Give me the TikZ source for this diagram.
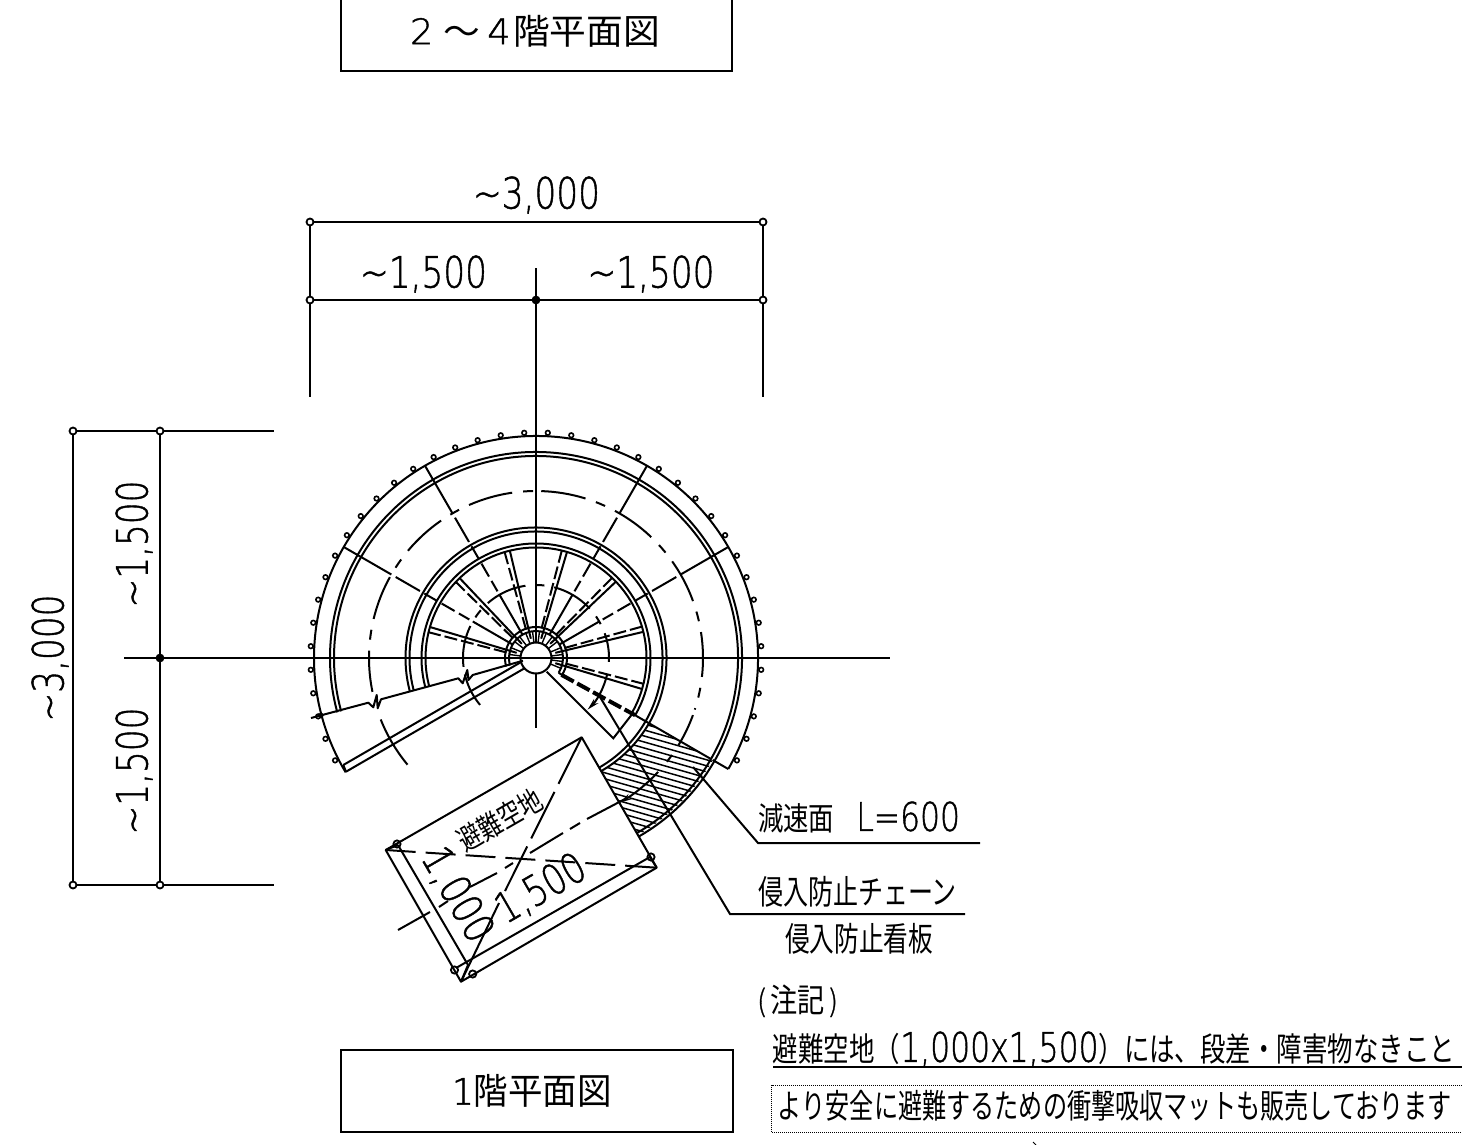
\documentclass[tikz,border=0pt]{standalone}
\usepackage{fontspec}
\usepackage{graphicx}
\usetikzlibrary{arrows.meta}
\newfontfamily\jp{Noto Sans CJK JP}
\newfontfamily\cad[FakeBold=1.2]{DejaVu Sans ExtraLight}
\newcommand{\fitbox}[3]{\resizebox*{#1pt}{#2pt}{\fontsize{30}{30}\selectfont #3}}
\newcommand{\tld}{\symbol{126}}
\newcommand{\bigcad}[1]{{\cad\fontsize{37}{37}\selectfont #1}}
\tikzset{
  x=1pt,y=1pt,
  ln/.style={line width=2pt,black},
  lbl/.style={inner sep=0pt,outer sep=0pt,black},
  radial/.style={ln,dash pattern=on 55pt off 5pt on 28pt off 5pt on 15pt off 5pt on 15pt off 5pt on 12pt off 4pt},
  arcdash/.style={ln,dash pattern=on 45pt off 11pt on 10pt off 11pt},
  arcdashl/.style={ln,dash pattern=on 10pt off 11pt on 45pt off 11pt},
  arcdashb/.style={ln,dash pattern=on 42pt off 10pt on 9pt off 10pt},
  treaddash/.style={ln,dash pattern=on 13pt off 4pt},
  tip/.style={-{Stealth[length=12pt,width=6pt]}},
  term/.style={line width=1.8pt,black},
  rail/.style={line width=1.6pt,black},
}
\begin{document}
\begin{tikzpicture}
\fill[white] (0,0) rectangle (1462,-1145);
\useasboundingbox (0,0) rectangle (1462,-1145);

% title boxes
\draw[ln] (340.5,5) -- (340.5,-71.5) -- (732,-71.5) -- (732,5);
\node[lbl] (t1) at (535,-31) {\fitbox{250}{32}{\cad 2\hspace{8pt}\jp ～\hspace{6pt}\cad 4\hspace{2pt}\jp 階平面図}};
\node[draw,ln,minimum width=392pt,minimum height=82pt] (bx2) at (537,-1091) {};
\node[lbl] (t2) at (532,-1091) {\fitbox{160}{33}{\cad 1\jp 階平面図}};

% dimensions, top
\draw[ln] (310,-222) -- (763,-222);
\draw[ln] (310,-300) -- (763,-300);
\draw[ln] (310,-222) -- (310,-397);
\draw[ln] (763,-222) -- (763,-397);
\draw[ln] (536,-268) -- (536,-728);
\foreach \p in {(310,-222),(763,-222),(310,-300),(763,-300)} \draw[term,fill=white] \p circle (3.5);
\fill (536,-300) circle (4.4);
\node[lbl] (d1) at (536.5,-195) {\fitbox{127}{37}{\cad \tld 3,000}};
\node[lbl] (d2) at (423.5,-274) {\fitbox{127}{37}{\cad \tld 1,500}};
\node[lbl] (d3) at (651,-274) {\fitbox{127}{37}{\cad \tld 1,500}};

% dimensions, left
\draw[ln] (73,-431) -- (73,-885);
\draw[ln] (160,-431) -- (160,-885);
\draw[ln] (73,-431) -- (274,-431);
\draw[ln] (73,-885) -- (274,-885);
\foreach \p in {(73,-431),(160,-431),(73,-885),(160,-885)} \draw[term,fill=white] \p circle (3.5);
\fill (160,-658) circle (4.4);
\node[lbl,rotate=90] (d4) at (50,-658) {\fitbox{127}{37}{\cad \tld 3,000}};
\node[lbl,rotate=90] (d5) at (134,-544) {\fitbox{127}{37}{\cad \tld 1,500}};
\node[lbl,rotate=90] (d6) at (134,-771) {\fitbox{127}{37}{\cad \tld 1,500}};

% hatch
\begin{scope}
\clip (600,-770) -- (638,-835) arc[start angle=-60,end angle=-30,radius=204pt] -- (648.6,-723) arc[start angle=-30,end angle=-60,radius=130pt] -- cycle;
\foreach \k in {0,...,32} \draw[line width=1.5pt] (560,-700-6*\k) -- (760,-700-6*\k-57);
\end{scope}

\draw[ln] (124,-658) -- (890,-658);

\begin{scope}[shift={(536,-658)}]
% outer rim
\draw[ln] (-30:222) arc[start angle=-30,end angle=211,radius=222pt];
\foreach \a in {-27,-21,...,207} \draw[rail,fill=white] (\a:225.5) circle (2.3);
\draw[ln] (-60:206) arc[start angle=-60,end angle=195.3,radius=206pt];
\draw[ln] (-60:202) arc[start angle=-60,end angle=195.3,radius=202pt];
\draw[ln] (-60:130.5) arc[start angle=-60,end angle=194.6,radius=130.5pt];
\draw[ln] (-60:126.5) arc[start angle=-60,end angle=194.6,radius=126.5pt];
\draw[ln] (-30:114.5) arc[start angle=-30,end angle=194.6,radius=114.5pt];
\draw[ln] (-30:110.5) arc[start angle=-30,end angle=194.6,radius=110.5pt];
\draw[ln] (-33:31) arc[start angle=-33,end angle=196,radius=31pt];
\draw[ln] (-33:27) arc[start angle=-33,end angle=196,radius=27pt];
\draw[ln] (-33:27) -- (-33:31);
\draw[ln,fill=white] (0,0) circle (15.5);
\draw[ln] (-15.5,0) -- (15.5,0);
\draw[ln] (0,-15.5) -- (0,-70) (0,15.5) -- (0,30);
% long radials
\foreach \a in {30,60,120,150} \draw[radial] (\a:222) -- (\a:27);
\draw[ln,dash pattern=on 90pt off 10pt] (-30:114) -- (-30:202);
\draw[ln] (-30:204) -- (-30:222);
% treads
\foreach \a in {165,135,105,75,45,15,-15} {
  \draw[ln] (\a-1.3:111) -- (\a:20);
  \draw[treaddash] (\a+1.5:111) -- (\a+5:26);
}
\foreach \a in {-22.5,-7.5,7.5,22.5,37.5,52.5,67.5,82.5,97.5,112.5,127.5,142.5,157.5,172.5}
  \draw[line width=1.4pt] (\a:16) -- (\a:27);
% dashed mid circles
\draw[arcdash] (88.2:167) arc[start angle=88.2,end angle=-18,radius=167pt];
\draw[arcdashl] (91:167) arc[start angle=91,end angle=191.7,radius=167pt];
\draw[ln] (-20:167) arc[start angle=-20,end angle=-31.5,radius=167pt];
\draw[ln] (-35.5:167) arc[start angle=-35.5,end angle=-38.4,radius=167pt];
\draw[ln,tip] (-43:167) arc[start angle=-43,end angle=-60,radius=167pt];
\draw[ln] (201.6:167) arc[start angle=201.6,end angle=219.7,radius=167pt];
\draw[arcdashb] (187:73) arc[start angle=187,end angle=-3,radius=73pt];
\draw[ln,tip] (-13:73) arc[start angle=-13,end angle=-45,radius=73pt];
\draw[ln] (193:73) arc[start angle=193,end angle=220,radius=73pt];
% thick dash
\draw[line width=4pt,dash pattern=on 14pt off 4pt] (-33.5:30.5) -- (-30:114.5);
\end{scope}

% stair edges
\coordinate (c0) at (311,-718);
\draw[ln,line join=round] (c0) -- (368.3,-702.7) -- (373.3,-707.3) -- (376.7,-695) -- (377.7,-708.3) -- (381,-699.3)
  -- (458.3,-678.3) -- (462.7,-683.3) -- (467.3,-670) -- (468.5,-680) -- (472.7,-675) -- (523,-660.7);
\fill (321,-715.3) circle (2.6);
\draw[ln] (343.3,-765) -- (521.7,-661.7);
\draw[ln] (346,-771.7) -- (525,-668);
\draw[ln] (343.3,-765) -- (346,-771.7);
\draw[ln] (546.7,-671.7) -- (613.3,-738.3) -- (633,-713);

% refuge area
\coordinate (L) at (385.7,-850);
\coordinate (T) at (581.7,-737.3);
\coordinate (R) at (656.7,-867.7);
\coordinate (B) at (461,-981.7);
\coordinate (Li) at (398,-845);
\coordinate (Bi) at (468,-965);
\coordinate (Bl) at (456,-968);
\coordinate (Ri) at (650,-857);
\draw[ln,line join=round] (L) -- (T) -- (R) -- (B) -- cycle;
\draw[ln] (Li) -- (Bi) -- (B);
\draw[ln] (Bl) -- (Ri) -- (R);
\draw[ln] (L) -- (Li);
\foreach \p in {(397,-844),(651,-857),(454.5,-970),(472.7,-974)} \draw[term] \p circle (3.6);
\draw[ln,dash pattern=on 30pt off 10pt] (L) -- (R);
\draw[ln,dash pattern=on 52pt off 9pt] (T) -- (505,-891);
\draw[ln] (499,-903) -- (B);
\foreach \s/\e in {{(398,-930)}/{(430,-912)},{(439,-907)}/{(448,-901)},{(470,-887)}/{(497,-873)},{(505,-868)}/{(513,-863)},{(530,-853)}/{(563,-833)},{(570,-829)}/{(580,-823)},{(587,-819)}/{(625,-799)}}
  \draw[ln] \s -- \e;

\node[lbl,rotate=30] (s1) at (500,-820) {\fitbox{92}{27}{\jp 避難空地}};
\node[lbl,rotate=30] (s2) at (541,-889) {\fitbox{97}{36}{\cad 1,500}};
\node[lbl,rotate=-60] (s3) at (457,-895) {\fitbox{102}{36}{\cad 1,000}};

% leaders
\draw[ln] (693,-767) -- (758,-843) -- (980,-843);
\draw[ln] (600,-697) -- (730,-914) -- (965,-914);
\node[lbl] (n1) at (859,-817.5) {\fitbox{202}{32}{\jp 減速面\hspace{26pt}\bigcad{L=600}}};
\node[lbl] (n2) at (857.5,-891.5) {\fitbox{199}{31}{\jp 侵入防止チェーン}};
\node[lbl] (n3) at (859,-938.5) {\fitbox{148}{31}{\jp 侵入防止看板}};

% notes
\node[lbl] (n4) at (797.5,-1001) {\fitbox{81}{32}{\cad (\hspace{3pt}\jp 注記\hspace{3pt}\cad )}};
\node[lbl] (n5) at (1114,-1049) {\fitbox{682}{35}{\jp 避難空地（\bigcad{1,000x1,500}\jp ）には、段差・障害物なきこと}};
\draw[ln] (773,-1067) -- (1462,-1067);
\draw[line width=1pt,dash pattern=on 1pt off 1pt] (1464,-1085) -- (771.5,-1085) -- (771.5,-1132) -- (1464,-1132);
\node[lbl] (n6) at (1115,-1106) {\fitbox{674}{31}{\jp より安全に避難するための衝撃吸収マットも販売しております}};
\draw[line width=1pt] (1033,-1142) -- (1036,-1145);
\end{tikzpicture}
\end{document}
